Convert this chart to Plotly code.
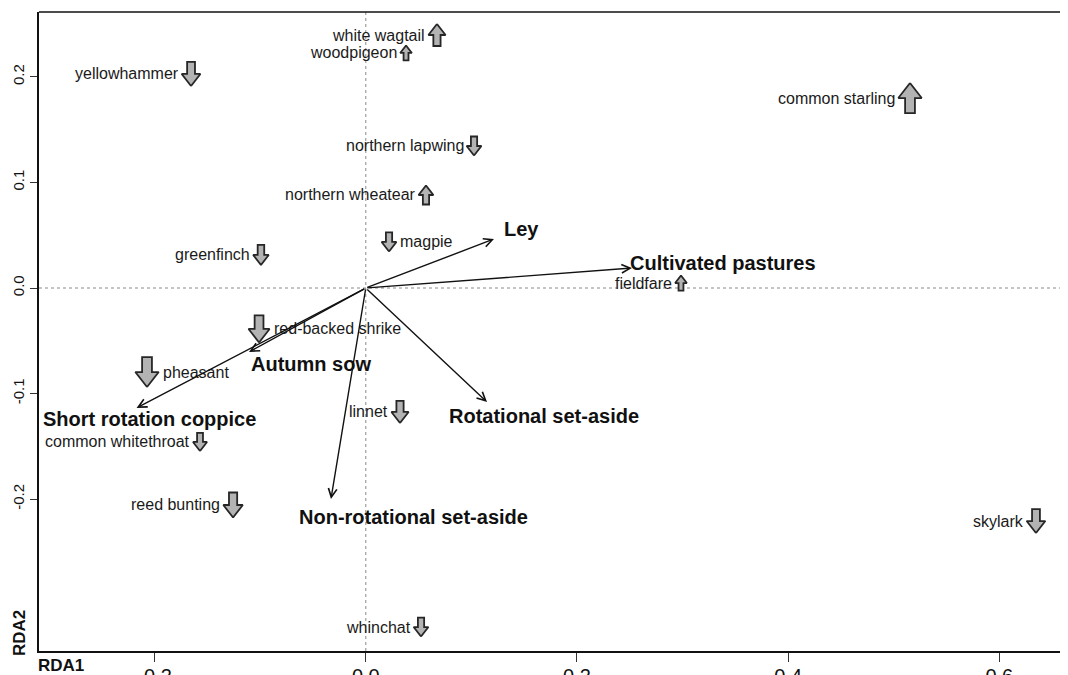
import plotly.graph_objects as go

# ---------------- data ----------------
species = ["white wagtail", "woodpigeon", "yellowhammer", "common starling",
           "northern lapwing", "northern wheatear", "magpie", "greenfinch",
           "fieldfare", "red-backed shrike", "pheasant", "linnet",
           "common whitethroat", "reed bunting", "skylark", "whinchat"]
sp_x = [0.0674, 0.0381, -0.1655, 0.5154, 0.1025, 0.0570, 0.0220, -0.0993,
        0.2985, -0.1011, -0.2072, 0.0324, -0.1570, -0.1257, 0.6347, 0.0523]
sp_y = [0.2396, 0.2226, 0.2027, 0.1799, 0.1345, 0.0881, 0.0436, 0.0313,
        0.0047, -0.0388, -0.0796, -0.1174, -0.1458, -0.2055, -0.2207, -0.3211]
sp_trend = [1, 1, -1, 1, -1, 1, -1, -1, 1, -1, -1, -1, -1, -1, -1, -1]   # 1 increase, -1 decrease
sp_change = [22, 15, 24, 30, 19, 19, 19, 20, 15, 27, 30, 22, 18, 25, 24, 19]  # arrow magnitude
sp_side = ["L", "L", "L", "L", "L", "L", "R", "L", "L", "R", "R", "L", "L", "L", "L", "L"]

env = ["Ley", "Cultivated pastures", "Rotational set-aside",
       "Non-rotational set-aside", "Short rotation coppice", "Autumn sow"]
env_x = [0.1214, 0.2521, 0.1148, -0.0330, -0.2171, -0.1106]
env_y = [0.0464, 0.0189, -0.1080, -0.1998, -0.1136, -0.0606]
env_lab_x = [0.1479, 0.3381, 0.1688, 0.0447, -0.2053, -0.0519]
env_lab_y = [0.0559, 0.0237, -0.1212, -0.2169, -0.1241, -0.0720]

x_ticks = [-0.2, 0.0, 0.2, 0.4, 0.6]
y_ticks = [-0.2, -0.1, 0.0, 0.1, 0.2]

# ---------------- layout geometry ----------------
# page body has an 8px margin, so the figure is placed at (8, 8)
OFF = 8
W, H = 1068 - OFF, 675 - OFF
ML, MR, MT, MB = 39 - OFF, 0, 12 - OFF, 24
PPU = 1055.9
X0 = (39 - 365.8) / PPU
Y0 = (288 - 651) / PPU
xr = [X0, X0 + (W - ML - MR) / PPU]
yr = [Y0, Y0 + (H - MT - MB) / PPU]
PW, PH = W - ML - MR, H - MT - MB

FONT = "Arial, Liberation Sans, sans-serif"

fig = go.Figure()

# species block arrows (one polygon per species, built around each score)
px_, py_ = [], []
for x, y, d, s in zip(sp_x, sp_y, sp_trend, sp_change):
    h = s / PPU
    w = 0.78 * h
    hh = 0.5 * h
    sw = 0.42 * w
    pts = [(0, h / 2), (w / 2, h / 2 - hh), (sw / 2, h / 2 - hh), (sw / 2, -h / 2),
           (-sw / 2, -h / 2), (-sw / 2, h / 2 - hh), (-w / 2, h / 2 - hh), (0, h / 2)]
    for dx, dy in pts:
        px_.append(x + dx)
        py_.append(y + d * dy)
    px_.append(None)
    py_.append(None)

fig.add_trace(go.Scatter(x=px_, y=py_, mode="lines", fill="toself",
                         fillcolor="#b3b3b3", line=dict(color="#262626", width=1.8),
                         hoverinfo="skip", showlegend=False))

annotations = []
for name, x, y, s, side in zip(species, sp_x, sp_y, sp_change, sp_side):
    half = 0.78 * s / PPU / 2
    if side == "L":
        annotations.append(dict(x=x - half, y=y, xref="x", yref="y", text=name,
                                showarrow=False, xanchor="right", yanchor="middle",
                                xshift=-1, font=dict(family=FONT, size=16, color="#1a1a1a")))
    else:
        annotations.append(dict(x=x + half, y=y, xref="x", yref="y", text=name,
                                showarrow=False, xanchor="left", yanchor="middle",
                                xshift=2, font=dict(family=FONT, size=16, color="#1a1a1a")))

# environmental vectors
for x, y in zip(env_x, env_y):
    annotations.append(dict(x=x, y=y, ax=0, ay=0, xref="x", yref="y", axref="x", ayref="y",
                            text="", showarrow=True, arrowhead=5, arrowsize=1.2,
                            arrowwidth=1.4, arrowcolor="#111111"))
for name, x, y in zip(env, env_lab_x, env_lab_y):
    annotations.append(dict(x=x, y=y, xref="x", yref="y", text="<b>" + name + "</b>",
                            showarrow=False, xanchor="center", yanchor="middle",
                            font=dict(family=FONT, size=20, color="#111111")))

# axis titles (positions in window pixels converted to paper units)
annotations.append(dict(x=(61 - 39) / PW, y=(651 - 666) / PH,
                        xref="paper", yref="paper", text="<b>RDA1</b>", showarrow=False,
                        xanchor="center", yanchor="middle",
                        font=dict(family=FONT, size=17, color="#111111")))
annotations.append(dict(x=(19 - 39) / PW, y=(651 - 633) / PH,
                        xref="paper", yref="paper", text="<b>RDA2</b>", showarrow=False,
                        textangle=-90, xanchor="center", yanchor="middle",
                        font=dict(family=FONT, size=17, color="#111111")))

shapes = [
    dict(type="line", xref="x", yref="paper", x0=0, x1=0, y0=0, y1=1,
         line=dict(color="#8a8a8a", width=1, dash="dot"), layer="below"),
    dict(type="line", xref="paper", yref="y", x0=0, x1=1, y0=0, y1=0,
         line=dict(color="#8a8a8a", width=1, dash="dot"), layer="below"),
    dict(type="line", xref="paper", yref="paper", x0=0, x1=1, y0=1, y1=1,
         line=dict(color="#111111", width=1.5)),
]

fig.update_layout(
    width=W, height=H, template="none",
    margin=dict(l=ML, r=MR, t=MT, b=MB, pad=0),
    paper_bgcolor="white", plot_bgcolor="white",
    showlegend=False,
    annotations=annotations, shapes=shapes,
    xaxis=dict(range=xr, tickvals=x_ticks, ticktext=[f"{v:.1f}" for v in x_ticks],
               showgrid=False, zeroline=False, showline=True, linecolor="#111111",
               linewidth=1.5, ticks="outside", ticklen=9, tickwidth=1, tickcolor="#333",
               ticklabelstandoff=-3,
               tickfont=dict(family=FONT, size=20, color="#111111"), automargin=False),
    yaxis=dict(range=yr, tickvals=y_ticks, ticktext=[f"{v:.1f}" for v in y_ticks],
               showgrid=False, zeroline=False, showline=True, linecolor="#111111",
               linewidth=1.5, ticks="outside", ticklen=7, tickwidth=1, tickcolor="#333",
               tickangle=-90, tickfont=dict(family=FONT, size=15, color="#111111"),
               automargin=False),
)

fig.write_html("out.html")
